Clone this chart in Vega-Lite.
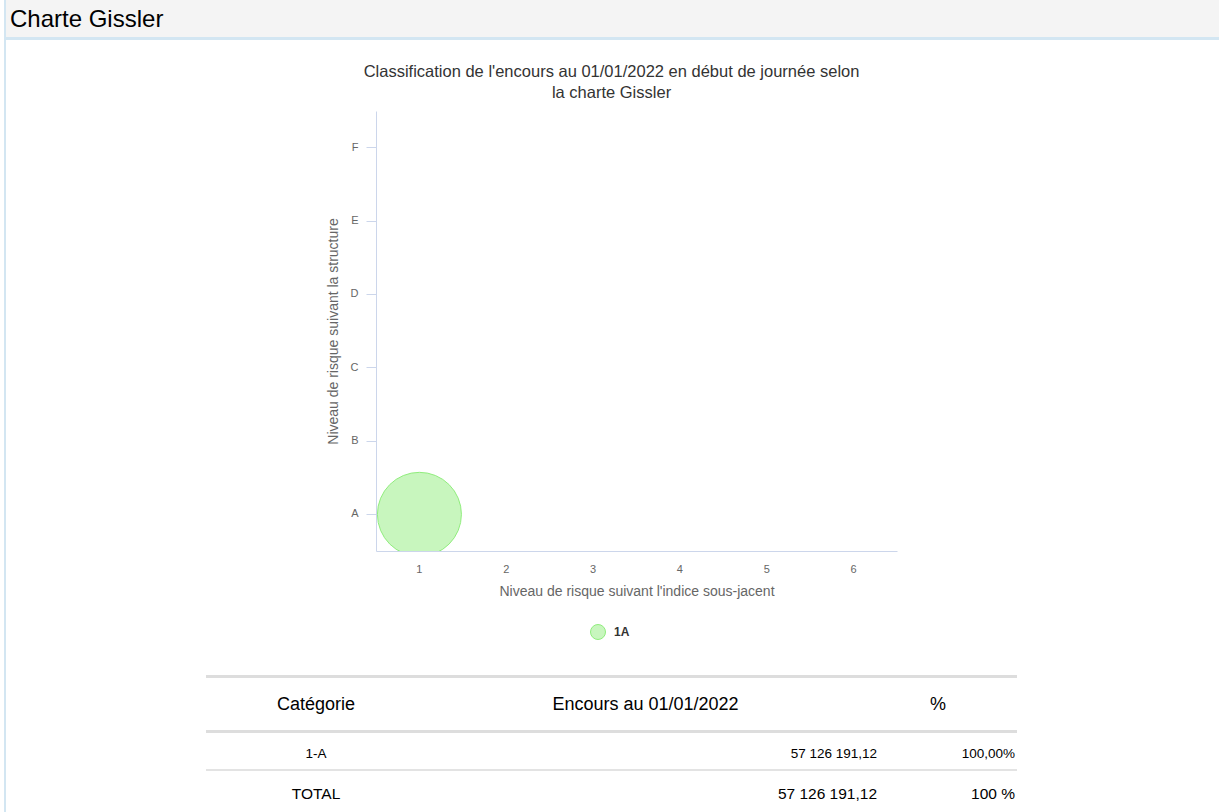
{
  "$schema": "https://vega.github.io/schema/vega-lite/v6.json",
  "padding": {"left": 4, "top": 0, "right": 0, "bottom": 0},
  "background": "white",
  "datasets": {
    "bulles": [
      {"categorie": "1A", "indice": 1, "structure": "A", "encours": 57126191.12}
    ],
    "tableau": [
      {"ligne": "entete", "categorie": "Catégorie", "encours": "Encours au 01/01/2022", "part": "%"},
      {"ligne": "1-A", "categorie": "1-A", "encours": "57 126 191,12", "part": "100,00%"},
      {"ligne": "TOTAL", "categorie": "TOTAL", "encours": "57 126 191,12", "part": "100 %"}
    ],
    "vide": [{}]
  },
  "spacing": 0,
  "hconcat": [
    {"width": 2, "height": 812, "view": {"fill": "#d3e6f2", "stroke": null}, "data": {"name": "vide"}, "mark": {"type": "text", "text": "", "fontSize": 0}, "encoding": {}},
    {
      "spacing": 0,
      "vconcat": [
        {
          "width": 1213, "height": 37,
          "view": {"fill": "#f4f4f4", "stroke": null},
          "title": {"text": "Charte Gissler", "anchor": "start", "frame": "group", "orient": "bottom", "offset": -10, "baseline": "alphabetic", "dx": 4, "fontSize": 24, "fontWeight": "normal", "color": "#000000", "font": "Liberation Sans"},
          "data": {"name": "vide"}, "mark": {"type": "text", "text": "", "fontSize": 0}, "encoding": {}
        },
        {"width": 1213, "height": 3, "view": {"fill": "#d3e6f2", "stroke": null}, "data": {"name": "vide"}, "mark": {"type": "text", "text": "", "fontSize": 0}, "encoding": {}},
        {"width": 1, "height": 23, "data": {"name": "vide"}, "mark": {"type": "text", "text": "", "fontSize": 0}, "encoding": {}},
        {
          "spacing": 0,
          "hconcat": [
            {"width": 320, "height": 1, "data": {"name": "vide"}, "mark": {"type": "text", "text": "", "fontSize": 0}, "encoding": {}},
            {
              "width": 521, "height": 440,
              "data": {"name": "bulles"},
              "title": {"text": ["Classification de l'encours au 01/01/2022 en début de journée selon", "la charte Gissler"], "fontSize": 16.5, "font": "Liberation Sans", "fontWeight": "normal", "color": "#333333", "lineHeight": 21, "anchor": "middle", "frame": "bounds", "offset": 10},
              "mark": {"type": "point", "filled": true, "shape": "circle", "opacity": 1, "stroke": "#90ed7d", "strokeWidth": 1, "clip": true},
              "encoding": {
                "x": {"field": "indice", "type": "ordinal",
                  "scale": {"type": "band", "domain": [1, 2, 3, 4, 5, 6], "paddingInner": 0, "paddingOuter": 0},
                  "axis": {"title": "Niveau de risque suivant l'indice sous-jacent", "labelAngle": 0, "ticks": false, "tickSize": 0, "labelPadding": 12, "titlePadding": 10, "domainColor": "#ccd6eb", "grid": false}},
                "y": {"field": "structure", "type": "ordinal",
                  "scale": {"type": "band", "domain": ["F", "E", "D", "C", "B", "A"], "paddingInner": 0, "paddingOuter": 0},
                  "axis": {"title": "Niveau de risque suivant la structure", "ticks": true, "tickSize": 10, "tickColor": "#ccd6eb", "labelPadding": 8, "titlePadding": 10, "domainColor": "#ccd6eb", "grid": false}},
                "size": {"field": "encours", "type": "quantitative", "scale": {"range": [0, 7056]}, "legend": null},
                "fill": {"field": "categorie", "type": "nominal", "scale": {"range": ["#c8f6be"]},
                  "legend": {"title": null, "orient": "none", "legendX": 586, "legendY": 624, "symbolType": "circle", "symbolSize": 225, "symbolStrokeColor": "#90ed7d", "symbolStrokeWidth": 1, "labelFontSize": 12, "labelFontWeight": "bold", "labelColor": "#333333", "labelFont": "Liberation Sans", "labelOffset": 8, "padding": 0}}
              }
            }
          ]
        },
        {"width": 1, "height": 77, "data": {"name": "vide"}, "mark": {"type": "text", "text": "", "fontSize": 0}, "encoding": {}},
        {
          "spacing": 0,
          "hconcat": [
            {"width": 200, "height": 1, "data": {"name": "vide"}, "mark": {"type": "text", "text": "", "fontSize": 0}, "encoding": {}},
            {
              "spacing": 0,
              "vconcat": [
                {"width": 811, "height": 3, "view": {"fill": "#dddddd", "stroke": null}, "data": {"name": "vide"}, "mark": {"type": "text", "text": "", "fontSize": 0}, "encoding": {}},
                {
                  "spacing": 0,
                  "hconcat": [
                    {"width": 220, "height": 52, "data": {"name": "tableau"}, "transform": [{"filter": "datum.ligne === 'entete'"}], "mark": {"type": "text", "fontSize": 18, "color": "#000000", "font": "Liberation Sans", "dy": 1}, "encoding": {"text": {"field": "categorie"}}},
                    {"width": 453, "height": 52, "data": {"name": "tableau"}, "transform": [{"filter": "datum.ligne === 'entete'"}], "mark": {"type": "text", "fontSize": 18, "color": "#000000", "font": "Liberation Sans", "dx": -7, "dy": 1}, "encoding": {"text": {"field": "encours"}}},
                    {"width": 138, "height": 52, "data": {"name": "tableau"}, "transform": [{"filter": "datum.ligne === 'entete'"}], "mark": {"type": "text", "fontSize": 18, "color": "#000000", "font": "Liberation Sans", "dx": -10, "dy": 1}, "encoding": {"text": {"field": "part"}}}
                  ]
                },
                {"width": 811, "height": 3, "view": {"fill": "#dddddd", "stroke": null}, "data": {"name": "vide"}, "mark": {"type": "text", "text": "", "fontSize": 0}, "encoding": {}},
                {
                  "spacing": 0,
                  "hconcat": [
                    {"width": 220, "height": 36, "data": {"name": "tableau"}, "transform": [{"filter": "datum.ligne === '1-A'"}], "mark": {"type": "text", "fontSize": 13.5, "color": "#000000", "font": "Liberation Sans", "dy": 3}, "encoding": {"text": {"field": "categorie"}}},
                    {"width": 453, "height": 36, "data": {"name": "tableau"}, "transform": [{"filter": "datum.ligne === '1-A'"}], "mark": {"type": "text", "fontSize": 13.5, "color": "#000000", "font": "Liberation Sans", "align": "right", "dx": -2, "dy": 3}, "encoding": {"text": {"field": "encours"}, "x": {"value": "width"}}},
                    {"width": 138, "height": 36, "data": {"name": "tableau"}, "transform": [{"filter": "datum.ligne === '1-A'"}], "mark": {"type": "text", "fontSize": 13.5, "color": "#000000", "font": "Liberation Sans", "align": "right", "dx": -2, "dy": 3}, "encoding": {"text": {"field": "part"}, "x": {"value": "width"}}}
                  ]
                },
                {"width": 811, "height": 2, "view": {"fill": "#e3e3e3", "stroke": null}, "data": {"name": "vide"}, "mark": {"type": "text", "text": "", "fontSize": 0}, "encoding": {}},
                {
                  "spacing": 0,
                  "hconcat": [
                    {"width": 220, "height": 42, "data": {"name": "tableau"}, "transform": [{"filter": "datum.ligne === 'TOTAL'"}], "mark": {"type": "text", "fontSize": 15.5, "color": "#000000", "font": "Liberation Sans", "dy": 2}, "encoding": {"text": {"field": "categorie"}}},
                    {"width": 453, "height": 42, "data": {"name": "tableau"}, "transform": [{"filter": "datum.ligne === 'TOTAL'"}], "mark": {"type": "text", "fontSize": 15.5, "color": "#000000", "font": "Liberation Sans", "align": "right", "dx": -2, "dy": 2}, "encoding": {"text": {"field": "encours"}, "x": {"value": "width"}}},
                    {"width": 138, "height": 42, "data": {"name": "tableau"}, "transform": [{"filter": "datum.ligne === 'TOTAL'"}], "mark": {"type": "text", "fontSize": 15.5, "color": "#000000", "font": "Liberation Sans", "align": "right", "dx": -2, "dy": 2}, "encoding": {"text": {"field": "part"}, "x": {"value": "width"}}}
                  ]
                }
              ]
            }
          ]
        }
      ]
    }
  ],
  "config": {
    "view": {"stroke": null},
    "font": "Liberation Sans",
    "axis": {"labelFont": "Liberation Sans", "labelFontSize": 11, "labelColor": "#666666", "titleFont": "Liberation Sans", "titleFontSize": 14, "titleFontWeight": "normal", "titleColor": "#666666", "domainWidth": 1}
  }
}
